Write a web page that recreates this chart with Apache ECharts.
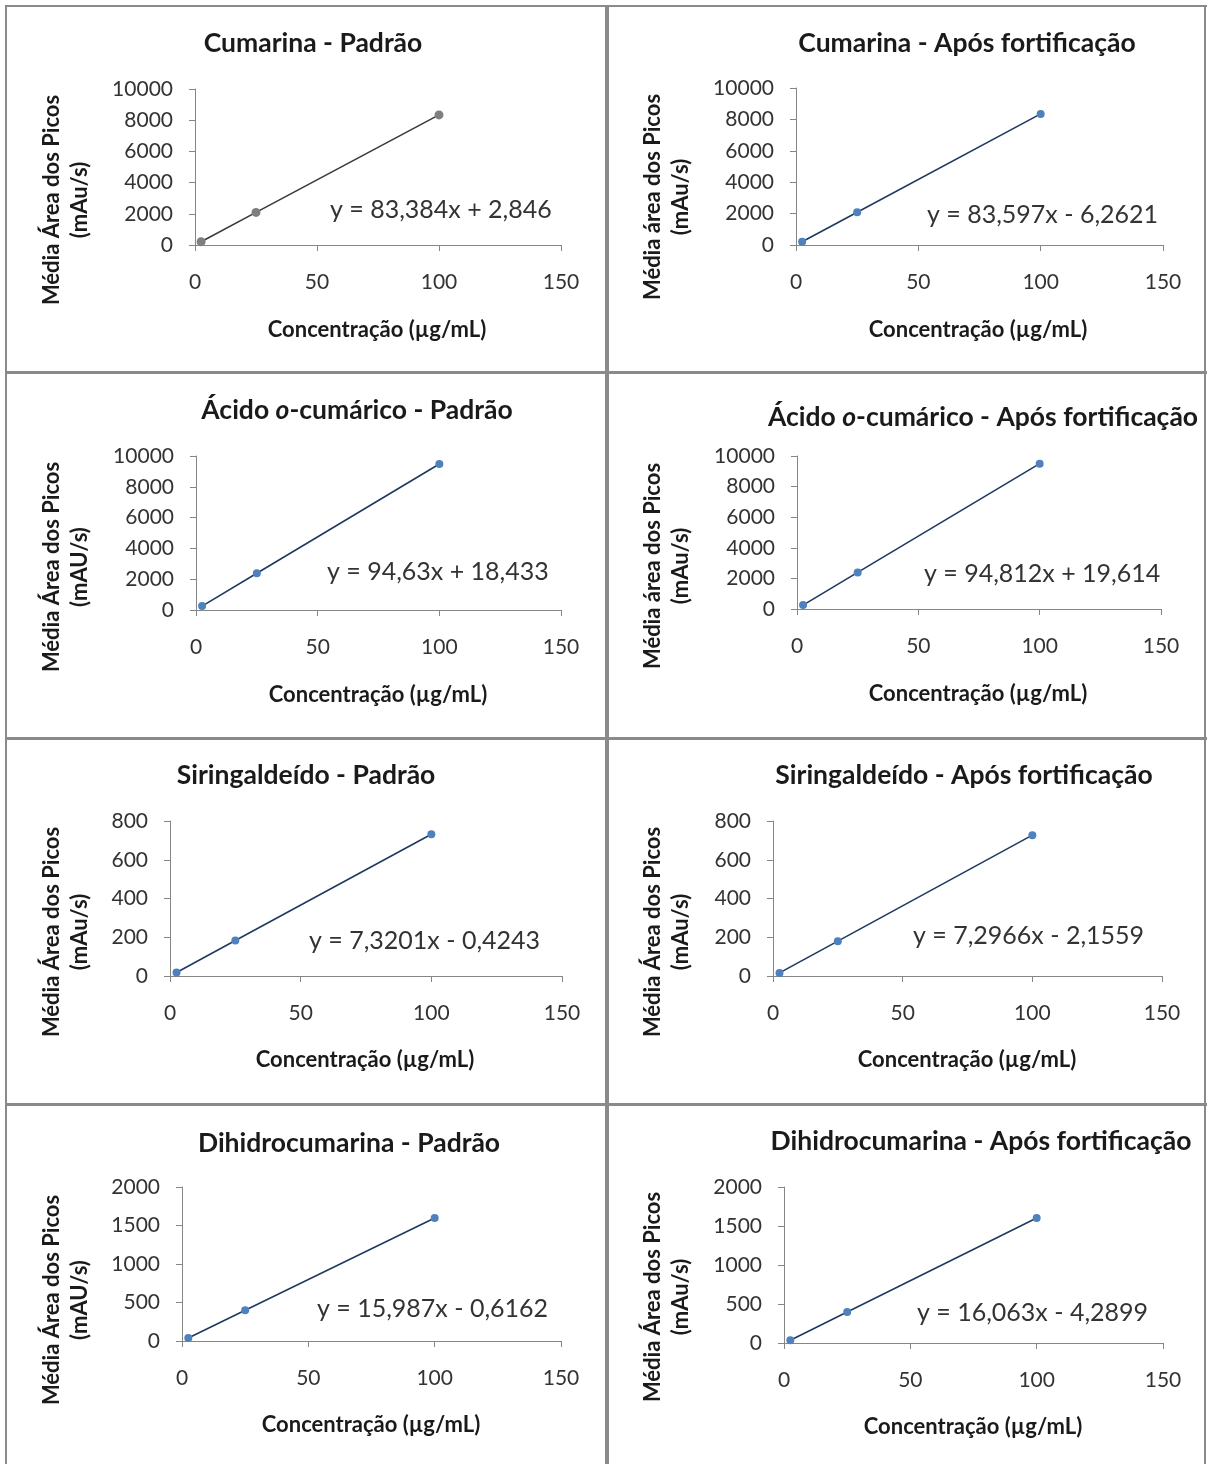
<!DOCTYPE html>
<html>
<head>
<meta charset="utf-8">
<script src="https://cdn.jsdelivr.net/npm/echarts@6/dist/echarts.min.js"></script>
<style>
  html, body { margin: 0; padding: 0; background: #fff; }
  #chart { width: 1207px; height: 1464px; }
</style>
</head>
<body>
<div id="chart"></div>
<script>
// ---- Data ----
const concentrations = [2.5, 25, 100];

const cumarinaPadrao = [210, 2090, 8340];
const cumarinaApos = [205, 2085, 8350];
const acidoPadrao = [255, 2385, 9480];
const acidoApos = [255, 2390, 9500];
const siringPadrao = [18, 183, 732];
const siringApos = [16, 180, 727];
const dihidroPadrao = [40, 400, 1598];
const dihidroApos = [36, 397, 1602];

const panelTitles = [
  'Cumarina - Padrão',
  'Cumarina - Após fortificação',
  'Ácido |o|-cumárico - Padrão',
  'Ácido |o|-cumárico - Após fortificação',
  'Siringaldeído - Padrão',
  'Siringaldeído - Após fortificação',
  'Dihidrocumarina - Padrão',
  'Dihidrocumarina - Após fortificação'
];
const yTitleLine1 = [
  'Média Área dos Picos', 'Média área dos Picos',
  'Média Área dos Picos', 'Média área dos Picos',
  'Média Área dos Picos', 'Média Área dos Picos',
  'Média Área dos Picos', 'Média Área dos Picos'
];
const yTitleLine2 = [
  '(mAu/s)', '(mAu/s)', '(mAU/s)', '(mAu/s)',
  '(mAu/s)', '(mAu/s)', '(mAU/s)', '(mAu/s)'
];
const xTitle = 'Concentração (µg/mL)';
const equations = [
  'y = 83,384x + 2,846',
  'y = 83,597x - 6,2621',
  'y = 94,63x + 18,433',
  'y = 94,812x + 19,614',
  'y = 7,3201x - 0,4243',
  'y = 7,2966x - 2,1559',
  'y = 15,987x - 0,6162',
  'y = 16,063x - 4,2899'
];
const xTicks = { min: 0, max: 150, interval: 50 };
const yScales = [
  { max: 10000, interval: 2000 }, { max: 10000, interval: 2000 },
  { max: 10000, interval: 2000 }, { max: 10000, interval: 2000 },
  { max: 800, interval: 200 }, { max: 800, interval: 200 },
  { max: 2000, interval: 500 }, { max: 2000, interval: 500 }
];
const seriesValues = [cumarinaPadrao, cumarinaApos, acidoPadrao, acidoApos,
                      siringPadrao, siringApos, dihidroPadrao, dihidroApos];

// ---- Layout (pixels) ----
const layout = [
  { l: 195, w: 366, t: 89,   h: 156, tx: 313, ty: 43,   yx: 66,  yy: 200,  xx: 377, xy: 330,  ex: 330, ey: 210 },
  { l: 796, w: 367, t: 88,   h: 157, tx: 967, ty: 43,   yx: 667, yy: 197,  xx: 978, xy: 330,  ex: 927, ey: 215 },
  { l: 196, w: 365, t: 456,  h: 154, tx: 357, ty: 410,  yx: 66,  yy: 567,  xx: 378, xy: 695,  ex: 327, ey: 572 },
  { l: 797, w: 364, t: 456,  h: 153, tx: 983, ty: 417,  yx: 667, yy: 566,  xx: 978, xy: 694,  ex: 924, ey: 574 },
  { l: 170, w: 392, t: 821,  h: 155, tx: 306, ty: 775,  yx: 66,  yy: 932,  xx: 365, xy: 1060, ex: 309, ey: 941 },
  { l: 773, w: 389, t: 821,  h: 155, tx: 964, ty: 775,  yx: 667, yy: 932,  xx: 967, xy: 1060, ex: 913, ey: 936 },
  { l: 182, w: 379, t: 1187, h: 154, tx: 349, ty: 1143, yx: 66,  yy: 1300, xx: 371, xy: 1425, ex: 317, ey: 1309 },
  { l: 784, w: 379, t: 1187, h: 156, tx: 981, ty: 1141, yx: 667, yy: 1297, xx: 973, xy: 1427, ex: 917, ey: 1313 }
];

const FONT = 'Lato, "Open Sans", sans-serif';
const axisColor = '#868686';
const labelColor = '#333333';
const plain = v => String(v);

const grids = [], xAxes = [], yAxes = [], series = [], graphics = [];

layout.forEach((p, i) => {
  grids.push({ left: p.l, top: p.t, width: p.w, height: p.h, containLabel: false });
  xAxes.push({
    gridIndex: i, type: 'value', min: xTicks.min, max: xTicks.max, interval: xTicks.interval,
    axisLine: { show: true, onZero: false, lineStyle: { color: axisColor, width: 1 } },
    axisTick: { show: true, length: 6, lineStyle: { color: axisColor } },
    axisLabel: { margin: 27, color: labelColor, fontFamily: FONT, fontSize: 21, formatter: plain },
    splitLine: { show: false }
  });
  yAxes.push({
    gridIndex: i, type: 'value', min: 0, max: yScales[i].max, interval: yScales[i].interval,
    axisLine: { show: true, lineStyle: { color: axisColor, width: 1 } },
    axisTick: { show: true, length: 6, lineStyle: { color: axisColor } },
    axisLabel: { margin: 22, color: labelColor, fontFamily: FONT, fontSize: 21, formatter: plain },
    splitLine: { show: false }
  });
  const gray = i === 0;
  series.push({
    type: 'line', xAxisIndex: i, yAxisIndex: i,
    data: concentrations.map((c, k) => [c, seriesValues[i][k]]),
    symbol: 'circle', symbolSize: gray ? 9 : 8,
    itemStyle: { color: gray ? '#7f7f7f' : '#4f81bd' },
    lineStyle: { color: gray ? '#3a3a3a' : '#1f3a60', width: 1.6 },
    z: 3, animation: false
  });

  // panel title
  const parts = panelTitles[i].split('|');
  let rt = '';
  parts.forEach((s, k) => { if (s) rt += (k % 2 === 1 ? '{i|' : '{b|') + s + '}'; });
  graphics.push({
    type: 'text', x: p.tx, y: p.ty,
    style: {
      text: rt, align: 'center', verticalAlign: 'middle',
      rich: {
        b: { fontFamily: FONT, fontSize: 26.5, fontWeight: 'bold', fill: '#1a1a1a' },
        i: { fontFamily: FONT, fontSize: 26.5, fontWeight: 'bold', fontStyle: 'italic', fill: '#1a1a1a' }
      }
    }
  });
  // y-axis title (rotated, two lines)
  graphics.push({
    type: 'text', x: p.yx, y: p.yy, rotation: Math.PI / 2,
    style: {
      text: yTitleLine1[i] + '\n' + yTitleLine2[i],
      align: 'center', verticalAlign: 'middle',
      fontFamily: FONT, fontSize: 22, fontWeight: 'bold', fill: '#1a1a1a', lineHeight: 28
    }
  });
  // x-axis title
  graphics.push({
    type: 'text', x: p.xx, y: p.xy,
    style: {
      text: xTitle, align: 'center', verticalAlign: 'middle',
      fontFamily: FONT, fontSize: 22, fontWeight: 'bold', fill: '#1a1a1a'
    }
  });
  // trendline equation
  graphics.push({
    type: 'text', x: p.ex, y: p.ey,
    style: {
      text: equations[i], align: 'left', verticalAlign: 'middle',
      fontFamily: FONT, fontSize: 25, fill: '#333333'
    }
  });
});

// panel borders
const borderColor = '#8a8a8a';
[
  { x: 5, y: 5, w: 1202, h: 2 },    // top
  { x: 5, y: 5, w: 2, h: 1459 },    // left
  { x: 605, y: 5, w: 4, h: 1459 },  // middle
  { x: 1204, y: 5, w: 2, h: 1459 }, // right
  { x: 5, y: 371, w: 1202, h: 3 },
  { x: 5, y: 737, w: 1202, h: 3 },
  { x: 5, y: 1103, w: 1202, h: 3 }
].forEach(r => graphics.push({
  type: 'rect', shape: { x: r.x, y: r.y, width: r.w, height: r.h },
  style: { fill: borderColor }, z: 0
}));

const chart = echarts.init(document.getElementById('chart'), null, { renderer: 'canvas' });
chart.setOption({
  animation: false,
  backgroundColor: '#ffffff',
  grid: grids, xAxis: xAxes, yAxis: yAxes, series: series,
  graphic: graphics
});
</script>
</body>
</html>
